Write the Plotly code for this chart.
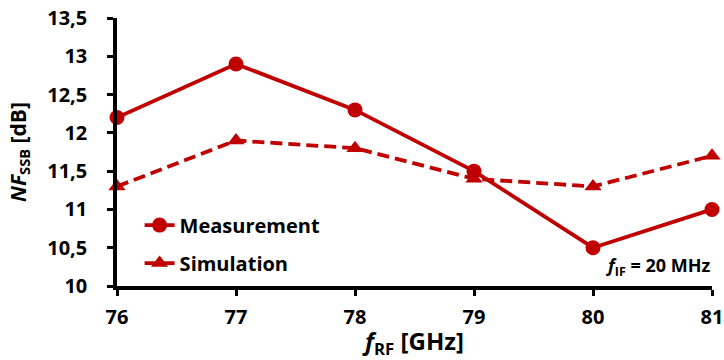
import plotly.graph_objects as go

freq = [76, 77, 78, 79, 80, 81]
measurement = [12.2, 12.9, 12.3, 11.5, 10.5, 11.0]
simulation = [11.3, 11.9, 11.8, 11.4, 11.3, 11.7]
y_ticks = [10, 10.5, 11, 11.5, 12, 12.5, 13, 13.5]
y_labels = ["10", "10,5", "11", "11,5", "12", "12,5", "13", "13,5"]

_RED = "#C00000"
_FONT = "Open Sans, Liberation Sans, sans-serif"

fig = go.Figure()
fig.add_trace(go.Scatter(
    x=freq, y=measurement, name="<b>Measurement</b>", mode="lines+markers",
    line=dict(color=_RED, width=3.8), legendgroup="m",
    marker=dict(symbol="circle", size=15, color=_RED),
    cliponaxis=False,
))
fig.add_trace(go.Scatter(
    x=freq, y=simulation, name="<b>Simulation</b>", mode="lines+markers",
    line=dict(color=_RED, width=3.8, dash="12px,6px"), legendgroup="s",
    marker=dict(symbol="triangle-up", size=15, color=_RED),
    cliponaxis=False,
))

fig.add_annotation(
    x=1, y=0, xref="paper", yref="paper", xanchor="right", yanchor="bottom",
    text="<b><i>f</i><sub>IF</sub> = 20 MHz</b>", showarrow=False,
    font=dict(size=18, color="black", family=_FONT), yshift=4,
)

fig.update_layout(
    width=724, height=360,
    margin=dict(l=117, r=12, t=18, b=74, autoexpand=False),
    paper_bgcolor="white", plot_bgcolor="white",
    font=dict(family=_FONT, color="black", size=19),
    legend=dict(x=0.038, y=0.30, xanchor="left", yanchor="top",
                bgcolor="rgba(0,0,0,0)", font=dict(size=20),
                traceorder="grouped", tracegroupgap=9),
)
fig.update_xaxes(
    range=[76, 81], dtick=1, showgrid=False, zeroline=False,
    showline=True, linecolor="black", linewidth=3.5,
    ticks="outside", ticklen=6, tickwidth=2.5, tickcolor="black",
    tickfont=dict(size=20, family=_FONT), ticklabelstandoff=4,
    ticklabeloverflow="allow",
    tickprefix="<b>", ticksuffix="</b>", automargin=False,
    title=dict(text="<b><i>f</i><sub>RF</sub> [GHz]</b>", font=dict(size=24), standoff=0),
)
fig.update_yaxes(
    range=[10, 13.5], tickvals=y_ticks, ticktext=["<b>%s</b>" % t for t in y_labels],
    showgrid=False, zeroline=False,
    showline=True, linecolor="black", linewidth=3.5,
    ticks="outside", ticklen=6, tickwidth=2.5, tickcolor="black",
    tickfont=dict(size=20, family=_FONT), ticklabelstandoff=16, automargin=False,
    ticklabeloverflow="allow",
    title=dict(text="<b><i>NF</i><sub>SSB</sub> [dB]</b>", font=dict(size=21), standoff=16),
)

# drop the page's default 8px body margin so the figure fills the window exactly
fig.write_html("out.html", config={"displayModeBar": False},
               post_script="document.body.style.margin = '0';")
